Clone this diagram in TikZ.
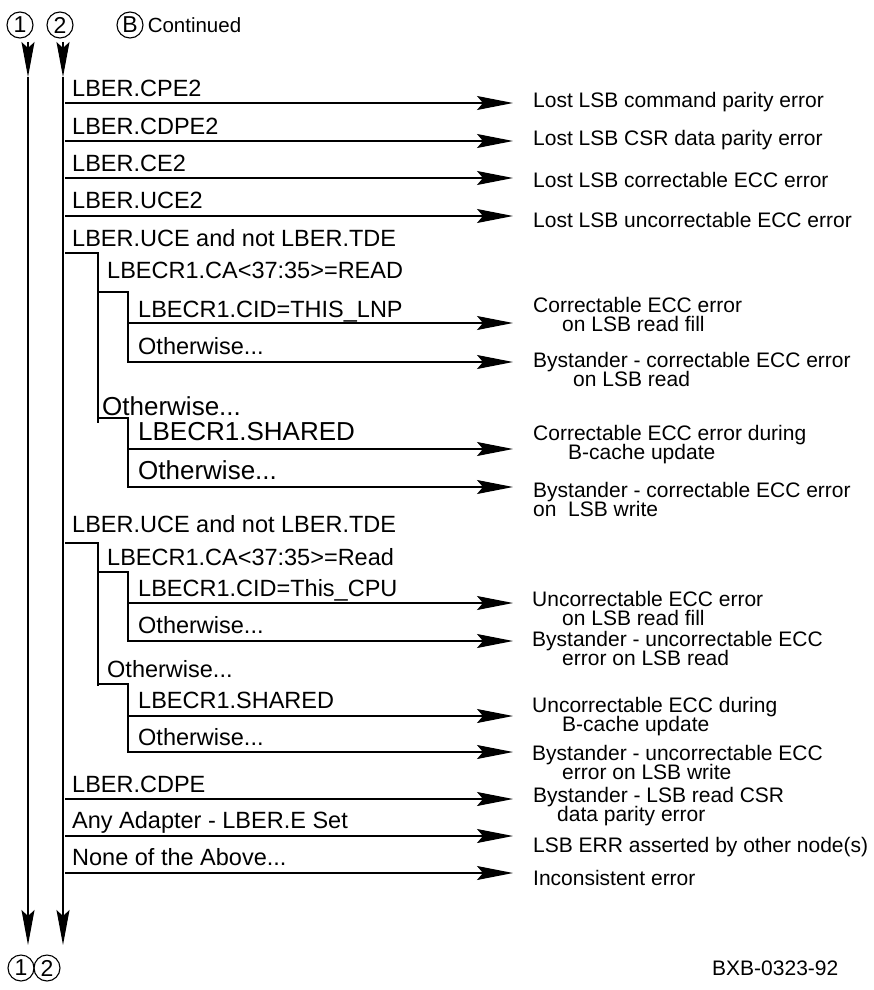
\documentclass[tikz,border=0pt]{standalone}
\usepackage{fontspec}
\setmainfont{Liberation Sans}
\usetikzlibrary{arrows.meta,positioning}

\begin{document}
\begin{tikzpicture}[
  x=1pt, y=-1pt,
  cond/.style={anchor=base west, inner sep=0pt, font=\fontsize{23.5}{26}\selectfont},
  condbig/.style={cond, font=\fontsize{26}{28}\selectfont},
  result/.style={anchor=west, inner sep=0pt, align=left,
    font={\fontsize{21}{19}\selectfont\lineskiplimit=-30pt}},
  conn/.style={circle, draw, line width=1.1pt, minimum size=26pt, inner sep=0pt,
    font=\fontsize{23}{23}\selectfont},
  tree/.style={line width=1.1pt},
  outarrow/.style={-{Stealth[length=36pt, width=14pt, inset=6pt]}, line width=1.1pt},
  busarrow/.style={-{Stealth[length=35pt, width=13pt, inset=6pt]}, line width=1.2pt}
]
\useasboundingbox (0,0) rectangle (874,990);

% off-page connectors
\node[conn] (t1) at (20,25) {1};
\node[conn] (t2) at (60,25) {2};
\node[conn] (tb) at (130,25) {B};
\node[anchor=west, inner sep=0pt, font=\fontsize{20.5}{22}\selectfont, right=4pt of tb] (cont) {Continued};
\node[conn] (b1) at (21,968) {1};
\node[conn] (b2) at (47,968) {2};

% the two buses
\coordinate (bus1) at (28,42);
\coordinate (bus1h) at (28,77);
\coordinate (bus1e) at (28,945);
\coordinate (bus2) at (63,42);
\coordinate (bus2h) at (63,77);
\coordinate (bus2e) at (63,945);
\draw[busarrow] (bus1) -- (bus1h);
\draw[busarrow] (bus1h) -- (bus1e);
\draw[busarrow] (bus2) -- (bus2h);
\draw[busarrow] (bus2h) -- (bus2e);

\coordinate (tip) at (513,0);

% first group
\node[cond] (cpe2) at (72,96) {LBER.CPE2};
\node[cond] (cdpe2) at (72,134) {LBER.CDPE2};
\node[cond] (ce2) at (72,171) {LBER.CE2};
\node[cond] (uce2) at (72,208) {LBER.UCE2};
\node[cond] (ucea) at (72,246) {LBER.UCE and not LBER.TDE};
\coordinate (r1) at (65,103);
\coordinate (r2) at (65,141);
\coordinate (r3) at (65,178);
\coordinate (r4) at (65,216);
\draw[outarrow] (r1) -- (r1 -| tip);
\draw[outarrow] (r2) -- (r2 -| tip);
\draw[outarrow] (r3) -- (r3 -| tip);
\draw[outarrow] (r4) -- (r4 -| tip);

\node[cond] (reada) at (107,278) {LBECR1.CA<37:35>=READ};
\node[cond] (cida) at (138,317) {LBECR1.CID=THIS\_LNP};
\node[cond] (oth1) at (138,354) {Otherwise...};
\node[condbig] (oth2) at (102,415) {Otherwise...};
\node[condbig] (shareda) at (138,440) {LBECR1.SHARED};
\node[condbig] (oth3) at (138,479) {Otherwise...};
\coordinate (ka) at (65,253);
\coordinate (kaend) at (98,423);
\coordinate (kb) at (98,292);
\coordinate (kc) at (98,418);
\coordinate (r5) at (128,323);
\coordinate (r6) at (128,362);
\coordinate (r7) at (128,449);
\coordinate (r8) at (128,487);
\draw[tree] (ka) -| (kaend);
\draw[outarrow] (r5) -- (r5 -| tip);
\draw[outarrow] (kb) -| (r6) -- (r6 -| tip);
\draw[outarrow] (r7) -- (r7 -| tip);
\draw[outarrow] (kc) -| (r8) -- (r8 -| tip);

% second group
\node[cond] (uceb) at (72,532) {LBER.UCE and not LBER.TDE};
\node[cond] (readb) at (107,565) {LBECR1.CA<37:35>=Read};
\node[cond] (cidb) at (138,596) {LBECR1.CID=This\_CPU};
\node[cond] (oth4) at (138,633) {Otherwise...};
\node[cond] (oth5) at (107,677) {Otherwise...};
\node[cond] (sharedb) at (138,708) {LBECR1.SHARED};
\node[cond] (oth6) at (138,745) {Otherwise...};
\coordinate (kd) at (65,543);
\coordinate (kdend) at (98,686);
\coordinate (ke) at (98,572);
\coordinate (kf) at (98,684);
\coordinate (r9) at (128,603);
\coordinate (r10) at (128,641);
\coordinate (r11) at (128,716);
\coordinate (r12) at (128,752);
\draw[tree] (kd) -| (kdend);
\draw[outarrow] (r9) -- (r9 -| tip);
\draw[outarrow] (ke) -| (r10) -- (r10 -| tip);
\draw[outarrow] (r11) -- (r11 -| tip);
\draw[outarrow] (kf) -| (r12) -- (r12 -| tip);

% last rows
\node[cond] (cdpe) at (72,792) {LBER.CDPE};
\node[cond] (adapt) at (72,828) {Any Adapter - LBER.E Set};
\node[cond] (none) at (72,865) {None of the Above...};
\coordinate (r13) at (65,799);
\coordinate (r14) at (65,836);
\coordinate (r15) at (65,873);
\draw[outarrow] (r13) -- (r13 -| tip);
\draw[outarrow] (r14) -- (r14 -| tip);
\draw[outarrow] (r15) -- (r15 -| tip);

% results
\node[result] (d1) at (533,102) {Lost LSB command parity error};
\node[result] (d2) at (533,140) {Lost LSB CSR data parity error};
\node[result] (d3) at (533,180) {Lost LSB correctable ECC error};
\node[result] (d4) at (533,220) {Lost LSB uncorrectable ECC error};
\node[result] (d5) at (533,314) {Correctable ECC error\\\hspace*{29pt}on LSB read fill};
\node[result] (d6) at (533,369) {Bystander - correctable ECC error\\\hspace*{40pt}on LSB read};
\node[result] (d7) at (533,445) {Correctable ECC error during\\\hspace*{35pt}B-cache update};
\node[result] (d8) at (533,499) {Bystander - correctable ECC error\\on\ \ LSB write};
\node[result] (d9) at (532,608) {Uncorrectable ECC error\\\hspace*{30pt}on LSB read fill};
\node[result] (d10) at (532,648) {Bystander - uncorrectable ECC\\\hspace*{30pt}error on LSB read};
\node[result] (d11) at (532,717) {Uncorrectable ECC during\\\hspace*{30pt}B-cache update};
\node[result] (d12) at (532,762) {Bystander - uncorrectable ECC\\\hspace*{30pt}error on LSB write};
\node[result] (d13) at (533,807) {Bystander - LSB read CSR\\\hspace*{24pt}data parity error};
\node[result] (d14) at (533,847) {LSB ERR asserted by other node(s)};
\node[result] (d15) at (533,878) {Inconsistent error};
\node[result] (fig) at (712,968) {BXB-0323-92};
\end{tikzpicture}
\end{document}
